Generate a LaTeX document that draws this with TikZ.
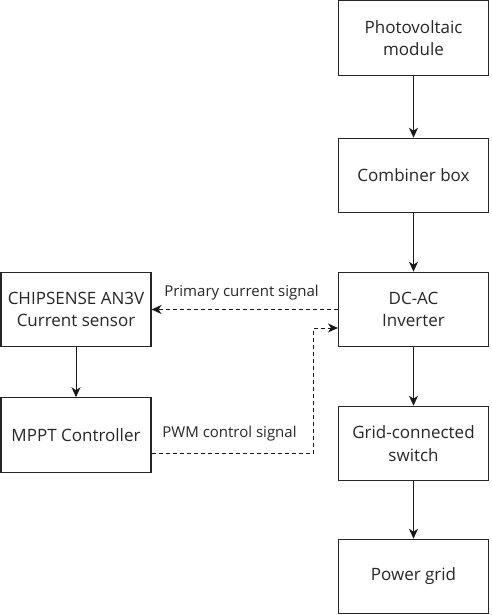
\documentclass[tikz,border=0pt]{standalone}
\usepackage{fontspec}
\setmainfont{Open Sans}
\usetikzlibrary{arrows.meta}
\begin{document}
\begin{tikzpicture}[x=1pt,y=-1pt,
  box/.style={draw=black!85,line width=1.1pt,minimum width=150pt,minimum height=74.5pt,align=center,inner sep=0pt,text=black!85,font=\fontsize{17}{22.5}\selectfont},
  lbl/.style={text=black!85,font=\fontsize{15}{18}\selectfont,inner sep=0pt},
  arr/.style={draw=black!90,line width=1pt,-{Stealth[length=10pt,width=9pt,inset=3pt]}},
  darr/.style={arr,dashed,dash pattern=on 4pt off 3pt}]
\useasboundingbox (0,0) rectangle (491,615);
\node[box] (pv) at (413.5,38) {Photovoltaic\\module};
\node[box] (cb) at (413.5,175.5) {Combiner box};
\node[box] (inv) at (413.5,309.5) {DC-AC\\Inverter};
\node[box] (gs) at (413.5,443.5) {Grid-connected\\switch};
\node[box] (pg) at (413.5,576.5) {Power grid};
\node[box] (cs) at (76,309.5) {CHIPSENSE AN3V\\Current sensor};
\node[box] (mp) at (76,435) {MPPT Controller};
\draw[arr] (pv) -- (cb);
\draw[arr] (cb) -- (inv);
\draw[arr] (inv) -- (gs);
\draw[arr] (gs) -- (pg);
\draw[arr] (cs) -- (mp);
\draw[darr] (inv.west) -- (cs.east);
\coordinate (c1) at (313.5,453);
\coordinate (c2) at (313.5,328);
\draw[darr] (mp.east |- c1) -- (c1) -- (c2) -- (inv.west |- c2);
\node[lbl] (l1) at (241.5,293) {Primary current signal};
\node[lbl] (l2) at (229.5,434) {PWM control signal};
\end{tikzpicture}
\end{document}
